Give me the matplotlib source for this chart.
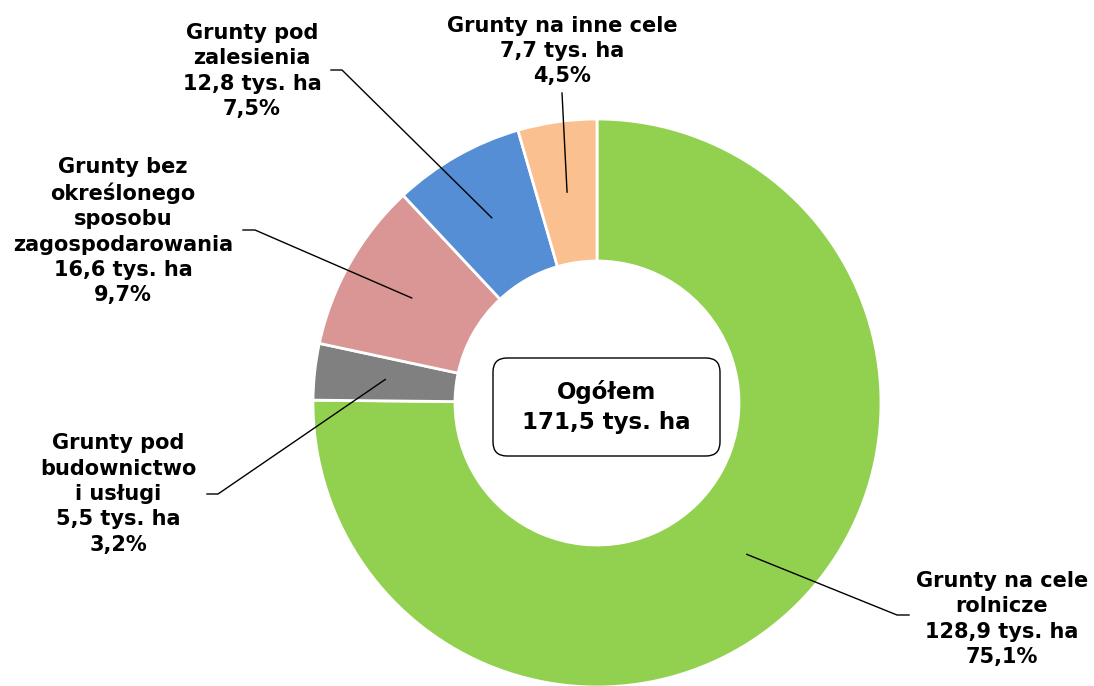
import numpy as np
import matplotlib.pyplot as plt
from matplotlib.patches import FancyBboxPatch

# dane
names = ["Grunty na cele\nrolnicze",
         "Grunty pod\nbudownictwo\ni usługi",
         "Grunty bez\nokreślonego\nsposobu\nzagospodarowania",
         "Grunty pod\nzalesienia",
         "Grunty na inne cele"]
area = [128.9, 5.5, 16.6, 12.8, 7.7]          # tys. ha
share = ["75,1%", "3,2%", "9,7%", "7,5%", "4,5%"]
total = "171,5"
colors = ["#92D050", "#808080", "#D99694", "#558ED5", "#FAC090"]

W, H = 1094, 686
CX, CY, R = 597, H - 403, 284
# pozycje etykiet (środek tekstu) i łamanie linii odniesienia
lab_xy = [(1002, H - 619), (118, H - 494), (123, H - 231), (252, H - 71), (562, H - 51)]
elbow = [((897, H - 615), (909, H - 615)),
         ((218, H - 494), (207, H - 494)),
         ((255, H - 230), (243, H - 230)),
         ((342, H - 70), (331, H - 70)),
         (None, (562, H - 93))]

plt.rcParams["font.family"] = ["DejaVu Sans"]
fig = plt.figure(figsize=(W / 100, H / 100), dpi=100)
ax = fig.add_axes([0, 0, 1, 1])

wedges, _ = ax.pie(area, colors=colors, startangle=90, counterclock=False,
                   center=(CX, CY), radius=R, frame=True,
                   wedgeprops=dict(width=R * 0.5, edgecolor="white", linewidth=2))
ax.set_xlim(0, W); ax.set_ylim(0, H)
ax.set_aspect("equal"); ax.axis("off")

for w, name, a, s, (tx, ty), (el, end) in zip(wedges, names, area, share, lab_xy, elbow):
    ang = np.deg2rad((w.theta1 + w.theta2) / 2)
    r = R * 0.75
    px, py = CX + r * np.cos(ang), CY + r * np.sin(ang)
    pts = [(px, py)] + ([el] if el else []) + [end]
    xs, ys = zip(*pts)
    ax.plot(xs, ys, color="black", lw=1)
    txt = f"{name}\n{str(a).replace('.', ',')} tys. ha\n{s}"
    ax.text(tx, ty, txt, ha="center", va="center", fontsize=15, fontweight="bold",
            linespacing=1.33)

box = FancyBboxPatch((493, H - 456), 227, 98, boxstyle="round,pad=0,rounding_size=14",
                     fc="white", ec="black", lw=1)
ax.add_patch(box)
ax.text(606, H - 407, f"Ogółem\n{total} tys. ha", ha="center", va="center",
        fontsize=16.5, fontweight="bold", linespacing=1.4)

fig.savefig("out.png", dpi=100)
